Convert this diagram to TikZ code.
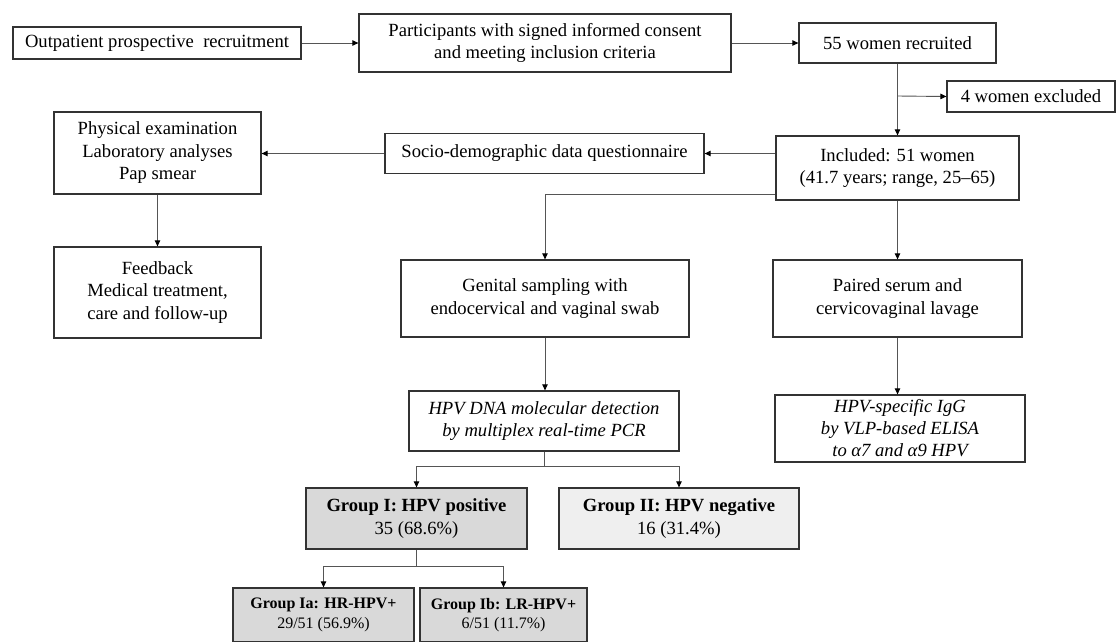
\documentclass[tikz,border=0pt]{standalone}
\usepackage{fontspec}
\setmainfont{Liberation Serif}
\usetikzlibrary{arrows.meta,calc}
\definecolor{boxline}{HTML}{333333}
\definecolor{conn}{HTML}{555555}
\definecolor{gfill}{HTML}{D9D9D9}
\definecolor{glight}{HTML}{EFEFEF}
\begin{document}
\begin{tikzpicture}[x=1pt,y=-1pt,
  box/.style={draw=boxline, line width=1.3pt, fill=white, align=center, inner sep=0pt,
    font=\fontsize{18.6}{22.5}\selectfont},
  smallbox/.style={box, font=\fontsize{16}{19.5}\selectfont},
  arr/.style={draw=conn, line width=0.9pt, -{Triangle[length=6pt,width=5.5pt,fill=black,color=black]}},
  ln/.style={draw=conn, line width=0.9pt}]
\useasboundingbox[fill=white] (0,0) rectangle (1120,641);

\node[box, minimum width=288pt, minimum height=32pt] (out) at (157,43) {Outpatient prospective\ \ recruitment};
\node[box, minimum width=372pt, minimum height=58pt] (part) at (545,43) {Participants with signed informed consent\\and meeting inclusion criteria};
\node[box, minimum width=197pt, minimum height=40pt] (w55) at (897.5,43) {55 women recruited};
\node[box, minimum width=168pt, minimum height=31pt] (excl) at (1031,96.5) {4 women excluded};
\node[box, minimum width=243pt, minimum height=64pt] (incl) at (897.5,168) {Included: 51 women\\(41.7 years; range, 25–65)};
\node[box, minimum width=319pt, minimum height=40pt] (socio) at (544.5,153.5) {Socio-demographic data questionnaire};
\node[box, minimum width=207pt, minimum height=82pt] (phys) at (157.5,153) {Physical examination\\Laboratory analyses\\Pap smear};
\node[box, minimum width=207pt, minimum height=91pt] (feed) at (157.5,292.5) {Feedback\\Medical treatment,\\care and follow-up};
\node[box, minimum width=288pt, minimum height=77pt] (gen) at (545,298.5) {Genital sampling with\\endocervical and vaginal swab};
\node[box, minimum width=249pt, minimum height=77pt] (pair) at (897.5,298.5) {Paired serum and\\cervicovaginal lavage};
\node[box, minimum width=270pt, minimum height=60pt, font=\fontsize{18.6}{22.5}\selectfont\itshape] (dna) at (544,421) {HPV DNA molecular detection\\by multiplex real-time PCR};
\node[box, minimum width=250pt, minimum height=67pt, font=\fontsize{18.6}{22}\selectfont\itshape] (igg) at (900,428.5) {HPV-specific IgG\\by VLP-based ELISA\\to α7 and α9 HPV};
\node[box, fill=gfill, minimum width=221pt, minimum height=61pt] (g1) at (416.5,518.5) {\textbf{Group I: HPV positive}\\35 (68.6\%)};
\node[box, fill=glight, minimum width=240pt, minimum height=61pt] (g2) at (679,518.5) {\textbf{Group II: HPV negative}\\16 (31.4\%)};
\node[smallbox, fill=gfill, minimum width=181pt, minimum height=54pt] (g1a) at (323.5,615) {\textbf{Group Ia: HR-HPV+}\\29/51 (56.9\%)};
\node[smallbox, fill=gfill, minimum width=167pt, minimum height=54pt] (g1b) at (503.5,615) {\textbf{Group Ib: LR-HPV+}\\6/51 (11.7\%)};

\coordinate (exbr) at (897.5,96);
\coordinate (incl2) at ($(incl.south west)+(0,-6)$);

\draw[arr] (out.east) -- (part.west);
\draw[arr] (part.east) -- (w55.west);
\draw[arr] (w55.south) -- (incl.north);
\draw[arr] (exbr) -- (excl.west);
\draw[arr] (incl.west |- socio.east) -- (socio.east);
\draw[arr] (socio.west) -- (phys.east |- socio.west);
\draw[arr] (phys.south) -- (feed.north);
\draw[arr] (incl2) -| (gen.north);
\draw[arr] (incl.south) -- (pair.north);
\draw[arr] (gen.south) -- (gen.south |- dna.north);
\draw[arr] (pair.south) -- (pair.south |- igg.north);
\draw[ln] (dna.south) -- ++(0,15) coordinate (dnabr);
\draw[arr] (dnabr) -| (g1.north);
\draw[arr] (dnabr) -| (g2.north);
\draw[ln] (g1.south) -- ++(0,17) coordinate (g1br);
\draw[arr] (g1br) -| (g1a.north);
\draw[arr] (g1br) -| (g1b.north);
\end{tikzpicture}
\end{document}
